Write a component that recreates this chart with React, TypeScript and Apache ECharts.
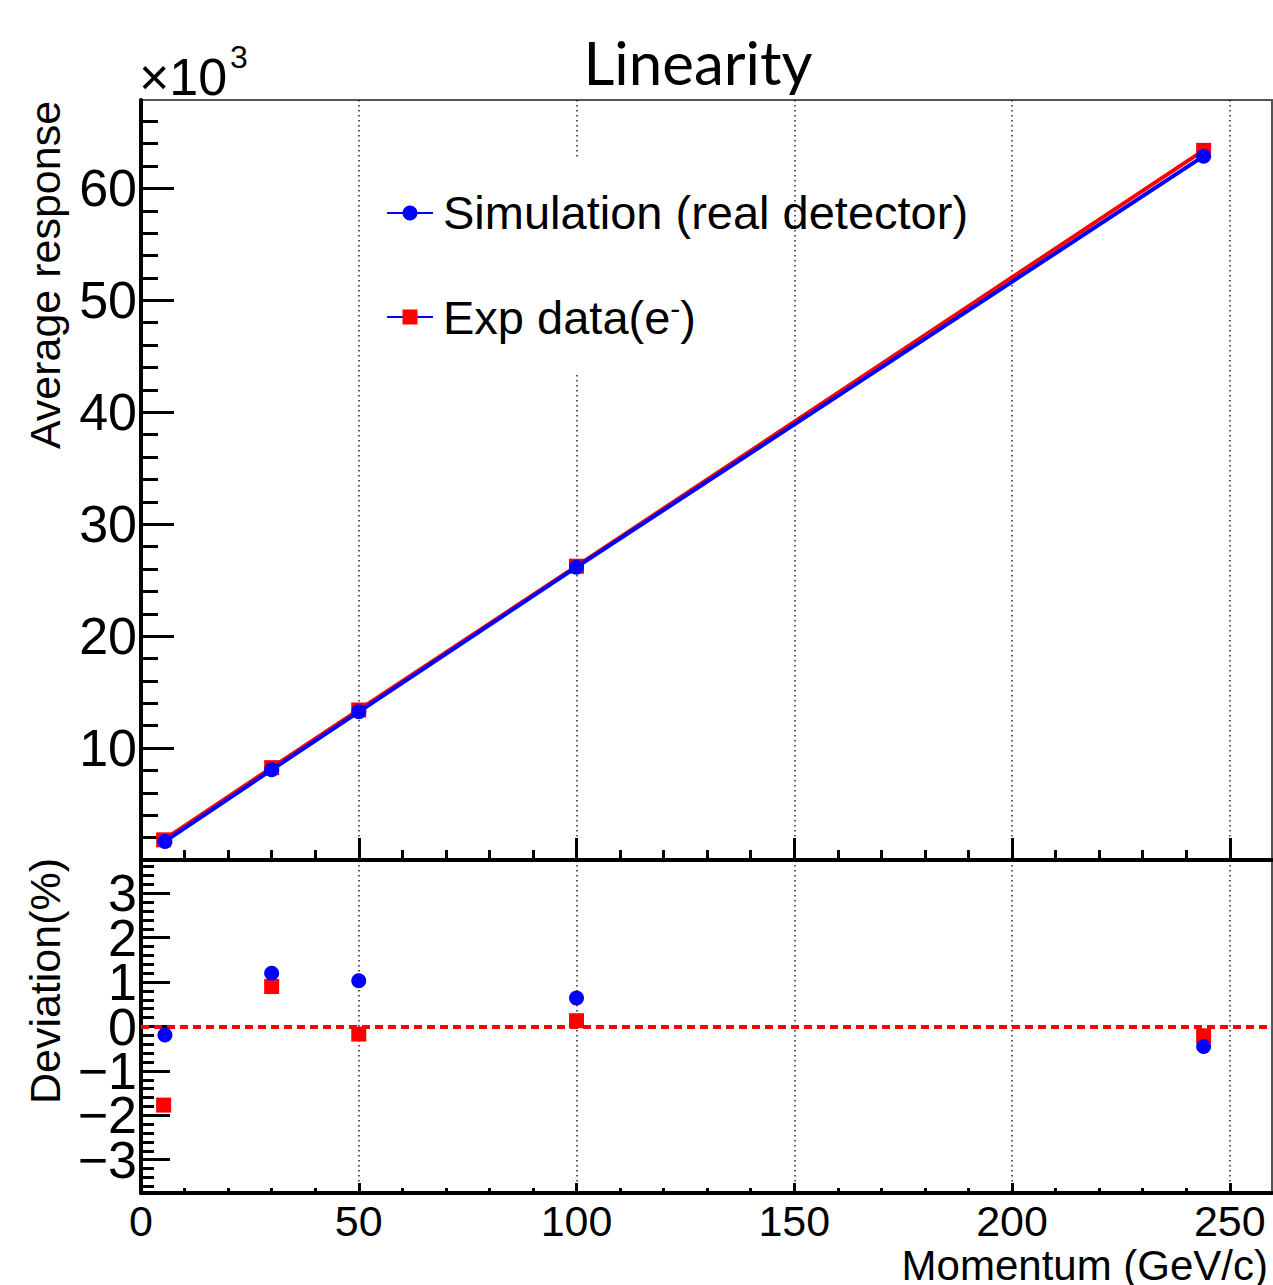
import React, { useEffect, useRef } from 'react';
import * as echarts from 'echarts';

// ---- data ----
const simMomentum = [5.5, 30, 50, 100, 244];
const expMomentum = [5.2, 30, 50, 100, 244];
const simResponse = [1660, 8060, 13240, 26160, 62880];
const expResponse = [1800, 8250, 13400, 26250, 63400];
const simDeviation = [-0.19, 1.2, 1.03, 0.64, -0.45];
const expDeviation = [-1.77, 0.9, -0.17, 0.13, -0.21];

const xMajorTicks = [0, 50, 100, 150, 200, 250];
const responseMajorTicks = [10000, 20000, 30000, 40000, 50000, 60000];
const deviationMajorTicks = [-3, -2, -1, 0, 1, 2, 3];
const deviationLabelsOdd = [-3, -1, 1, 3];
const deviationLabelsEven = [-2, 0, 2];

const X_MAX = 259.7;
const RESP_MIN = 0;
const RESP_MAX = 67900;
const DEV_MIN = -3.75;
const DEV_MAX = 3.75;

const xMinorTicks: number[] = [];
for (let v = 10; v < X_MAX; v += 10) if (v % 50 !== 0) xMinorTicks.push(v);
const respMinorTicks: number[] = [];
for (let v = 2000; v < RESP_MAX; v += 2000) if (v % 10000 !== 0) respMinorTicks.push(v);
const devMinorTicks: number[] = [];
for (let i = -18; i <= 18; i++) if (i % 5 !== 0) devMinorTicks.push(Math.round(i * 2) / 10);

const FONT = 'Liberation Sans';
const BLACK = '#000';
const BLUE = '#0000ff';
const RED = '#ff0000';

const gridLineStyle = { color: '#222', width: 1.5, type: [1.5, 3.5] as number[] };

function xAxisDef(gridIndex: number, major: boolean, tickLen: number, showLabels: boolean) {
  return {
    gridIndex,
    type: 'value',
    position: 'bottom',
    min: 0,
    max: X_MAX,
    axisLine: { show: major, onZero: false, lineStyle: { color: BLACK, width: 4 } },
    axisTick: {
      show: true,
      inside: true,
      length: tickLen,
      lineStyle: { color: BLACK, width: 3 },
      customValues: major ? xMajorTicks : xMinorTicks,
    },
    axisLabel: {
      show: showLabels,
      customValues: xMajorTicks,
      showMinLabel: true,
      showMaxLabel: true,
      color: BLACK,
      fontFamily: FONT,
      fontSize: 43,
      margin: 6,
      formatter: (v: number) => String(v),
    },
    splitLine: { show: major, lineStyle: gridLineStyle },
  };
}

function yAxisDef(
  gridIndex: number,
  min: number,
  max: number,
  ticks: number[] | null,
  tickLen: number,
  showLine: boolean,
  labels?: number[],
  labelFmt?: (v: number) => string,
) {
  return {
    gridIndex,
    type: 'value',
    position: 'left',
    min,
    max,
    axisLine: { show: showLine, onZero: false, lineStyle: { color: BLACK, width: 4 } },
    axisTick: {
      show: !!ticks,
      inside: true,
      length: tickLen,
      lineStyle: { color: BLACK, width: 3 },
      customValues: ticks || undefined,
    },
    axisLabel: {
      show: !!labels,
      customValues: labels,
      showMinLabel: true,
      showMaxLabel: true,
      hideOverlap: false,
      color: BLACK,
      fontFamily: FONT,
      fontSize: 52,
      margin: 4,
      formatter: labelFmt,
    },
    splitLine: { show: false },
  };
}

const devFmt = (v: number) => (v < 0 ? '\u2212' + Math.abs(v) : String(v));
const zip = (xs: number[], ys: number[]) => xs.map((x, i) => [x, ys[i]]);

const option: any = {
  animation: false,
  backgroundColor: '#fff',
  grid: [
    { left: 141, top: 100, width: 1131, height: 760, show: true, borderColor: '#555', borderWidth: 2, backgroundColor: 'transparent', outerBoundsMode: 'none', containLabel: false },
    { left: 141, top: 860, width: 1131, height: 333, show: true, borderColor: '#555', borderWidth: 2, backgroundColor: 'transparent', outerBoundsMode: 'none', containLabel: false },
  ],
  xAxis: [
    xAxisDef(0, true, 22, false),
    xAxisDef(0, false, 10, false),
    xAxisDef(1, true, 10, true),
    xAxisDef(1, false, 5, false),
  ],
  yAxis: [
    yAxisDef(0, RESP_MIN, RESP_MAX, responseMajorTicks, 33, true, responseMajorTicks, (v: number) => String(v / 1000)),
    yAxisDef(0, RESP_MIN, RESP_MAX, respMinorTicks, 17, false),
    yAxisDef(1, DEV_MIN, DEV_MAX, deviationMajorTicks, 29, true),
    yAxisDef(1, DEV_MIN, DEV_MAX, devMinorTicks, 13, false),
    yAxisDef(1, DEV_MIN, DEV_MAX, null, 0, false, deviationLabelsOdd, devFmt),
    yAxisDef(1, DEV_MIN, DEV_MAX, null, 0, false, deviationLabelsEven, devFmt),
  ],
  series: [
    {
      name: 'Exp data',
      type: 'line',
      xAxisIndex: 0,
      yAxisIndex: 0,
      data: zip(expMomentum, expResponse),
      symbol: 'rect',
      symbolSize: 15,
      showSymbol: true,
      lineStyle: { color: RED, width: 4 },
      itemStyle: { color: RED, opacity: 1 },
      z: 3,
    },
    {
      name: 'Simulation',
      type: 'line',
      xAxisIndex: 0,
      yAxisIndex: 0,
      data: zip(simMomentum, simResponse),
      symbol: 'circle',
      symbolSize: 15,
      showSymbol: true,
      lineStyle: { color: BLUE, width: 4 },
      itemStyle: { color: BLUE, opacity: 1 },
      z: 4,
    },
    {
      name: 'Exp deviation',
      type: 'scatter',
      xAxisIndex: 2,
      yAxisIndex: 2,
      data: zip(expMomentum, expDeviation),
      symbol: 'rect',
      symbolSize: 15,
      itemStyle: { color: RED, opacity: 1 },
      z: 3,
      markLine: {
        silent: true,
        symbol: ['none', 'none'],
        label: { show: false },
        lineStyle: { color: RED, width: 4, type: [8, 5], opacity: 1 },
        data: [{ yAxis: 0 }],
        z: 2,
      },
    },
    {
      name: 'Sim deviation',
      type: 'scatter',
      xAxisIndex: 2,
      yAxisIndex: 2,
      data: zip(simMomentum, simDeviation),
      symbol: 'circle',
      symbolSize: 15,
      itemStyle: { color: BLUE, opacity: 1 },
      z: 4,
    },
  ],
  graphic: [
    // legend background (hides the grid line behind it)
    { type: 'rect', z: 1, shape: { x: 372, y: 158, width: 410, height: 214 }, style: { fill: '#fff' } },
    // legend entry 1
    { type: 'line', z: 2, shape: { x1: 387, y1: 213, x2: 433, y2: 213 }, style: { stroke: BLUE, lineWidth: 2 } },
    { type: 'circle', z: 3, shape: { cx: 410, cy: 213, r: 7.5 }, style: { fill: BLUE } },
    {
      type: 'text', z: 3, x: 443, y: 212,
      style: { text: 'Simulation (real detector)', fontFamily: FONT, fontSize: 47, fill: BLACK, align: 'left', verticalAlign: 'middle' },
    },
    // legend entry 2
    { type: 'line', z: 2, shape: { x1: 387, y1: 317, x2: 433, y2: 317 }, style: { stroke: BLUE, lineWidth: 2 } },
    { type: 'rect', z: 3, shape: { x: 402.5, y: 309.5, width: 15, height: 15 }, style: { fill: RED } },
    {
      type: 'text', z: 3, x: 443, y: 317,
      style: {
        text: '{a|Exp data(e}{s|-}{a|)}',
        fill: BLACK,
        align: 'left',
        verticalAlign: 'middle',
        rich: {
          a: { fontFamily: FONT, fontSize: 47, lineHeight: 47, fill: BLACK },
          s: { fontFamily: FONT, fontSize: 30, lineHeight: 30, verticalAlign: 'top', fill: BLACK },
        },
      },
    },
    // title
    {
      type: 'text', z: 3, x: 698, y: 62,
      style: { text: 'Linearity', fontFamily: 'Lato', fontSize: 60, fill: BLACK, align: 'center', verticalAlign: 'middle' },
    },
    // exponent label
    {
      type: 'text', z: 3, x: 139, y: 77,
      style: { text: '\u00d710', fontFamily: FONT, fontSize: 52, fill: BLACK, align: 'left', verticalAlign: 'middle' },
    },
    {
      type: 'text', z: 3, x: 230, y: 57,
      style: { text: '3', fontFamily: FONT, fontSize: 32, fill: BLACK, align: 'left', verticalAlign: 'middle' },
    },
    // axis titles
    {
      type: 'text', z: 3, x: 45, y: 275, rotation: Math.PI / 2,
      style: { text: 'Average response', fontFamily: FONT, fontSize: 43, fill: BLACK, align: 'center', verticalAlign: 'middle' },
    },
    {
      type: 'text', z: 3, x: 45, y: 981, rotation: Math.PI / 2,
      style: { text: 'Deviation(%)', fontFamily: FONT, fontSize: 43, fill: BLACK, align: 'center', verticalAlign: 'middle' },
    },
    {
      type: 'text', z: 3, x: 1268, y: 1265,
      style: { text: 'Momentum (GeV/c)', fontFamily: FONT, fontSize: 42, fill: BLACK, align: 'right', verticalAlign: 'middle' },
    },
  ],
};

export default function App() {
  const ref = useRef<HTMLDivElement>(null);
  useEffect(() => {
    if (!ref.current) return;
    const chart = echarts.init(ref.current, null, { renderer: 'svg' });
    chart.setOption(option);
    return () => chart.dispose();
  }, []);
  return (
    <div
      ref={ref}
      style={{ position: 'fixed', left: 0, top: 0, width: 1273, height: 1285, background: '#fff' }}
    />
  );
}
